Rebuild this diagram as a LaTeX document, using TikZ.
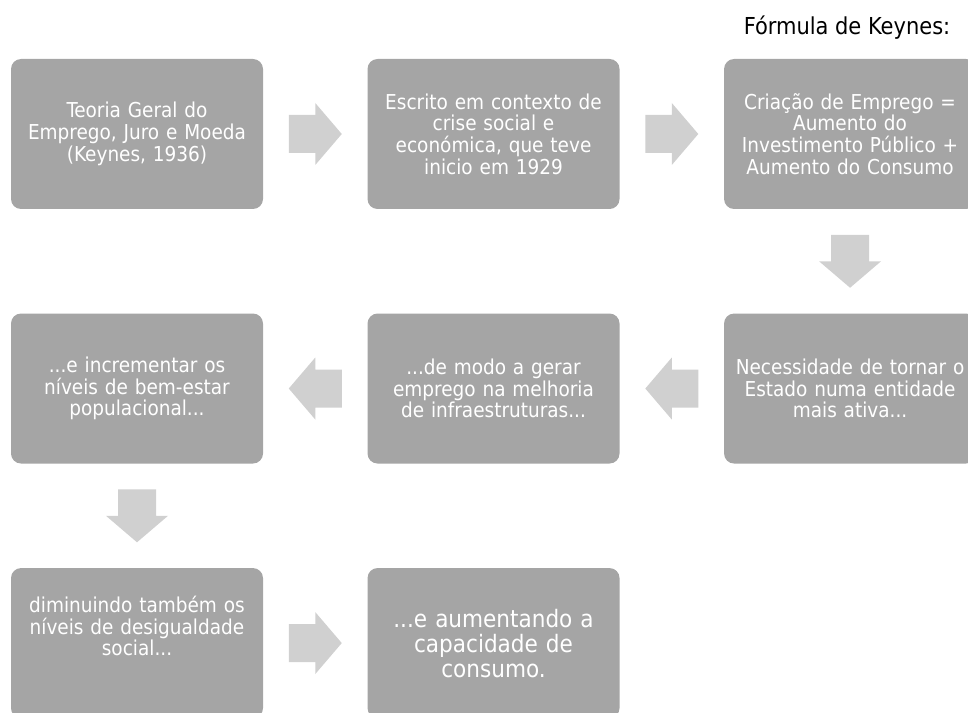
\documentclass[tikz,border=0pt]{standalone}
\usepackage{fontspec}
\setmainfont{DejaVu Sans Condensed}
\usetikzlibrary{positioning,calc}

\definecolor{boxgray}{HTML}{A5A5A5}
\definecolor{arrowgray}{HTML}{D0D0D0}

\tikzset{
  stepbox/.style={rectangle, rounded corners=7.5pt, fill=boxgray, text=white,
    minimum width=189pt, minimum height=112.5pt, text width=187pt,
    align=center, inner sep=0pt, font=\fontsize{15.4}{16.25}\selectfont},
  blockarrow/.pic={
    \fill[arrowgray] (-26.5,-19) -- (0,-19) -- (0,-31) -- (26.5,0)
      -- (0,31) -- (0,19) -- (-26.5,19) -- cycle;
  }
}

\begin{document}
\begin{tikzpicture}[x=0.75pt, y=-0.75pt]
\useasboundingbox (0,0) rectangle (968,713);

% first row
\node[stepbox] (teoria) at (137,134) {Teoria Geral do\\Emprego, Juro e Moeda\\(Keynes, 1936)};
\node[stepbox, right=78pt of teoria] (escrito) {Escrito em contexto de\\crise social e\\económica, que teve\\inicio em 1929};
\node[stepbox, right=78pt of escrito] (formula) {Criação de Emprego =\\Aumento do\\Investimento Público +\\Aumento do Consumo};
\node[font=\fontsize{17.5}{20}\selectfont, anchor=base] (titulo) at (847,35) {Fórmula de Keynes:};

% second row
\node[stepbox, below=78pt of formula] (estado) {Necessidade de tornar o\\Estado numa entidade\\mais ativa...};
\node[stepbox, left=78pt of estado] (modo) {...de modo a gerar\\emprego na melhoria\\de infraestruturas...};
\node[stepbox, left=78pt of modo] (bemestar) {...e incrementar os\\níveis de bem-estar\\populacional...};

% third row
\node[stepbox, below=78pt of bemestar, text depth=58pt] (desigual) {diminuindo também os\\níveis de desigualdade\\social...};
\node[stepbox, right=78pt of desigual, font=\fontsize{18}{18.75}\selectfont] (consumo) {...e aumentando a\\capacidade de\\consumo.};

% block arrows
\pic at ($(teoria.east)!0.5!(escrito.west)$) {blockarrow};
\pic at ($(escrito.east)!0.5!(formula.west)$) {blockarrow};
\pic[rotate=-90] at ($(formula.south)!0.5!(estado.north)$) {blockarrow};
\pic[rotate=180] at ($(estado.west)!0.5!(modo.east)$) {blockarrow};
\pic[rotate=180] at ($(modo.west)!0.5!(bemestar.east)$) {blockarrow};
\pic[rotate=-90] at ($(bemestar.south)!0.5!(desigual.north)$) {blockarrow};
\pic at ($(desigual.east)!0.5!(consumo.west)$) {blockarrow};
\end{tikzpicture}
\end{document}
